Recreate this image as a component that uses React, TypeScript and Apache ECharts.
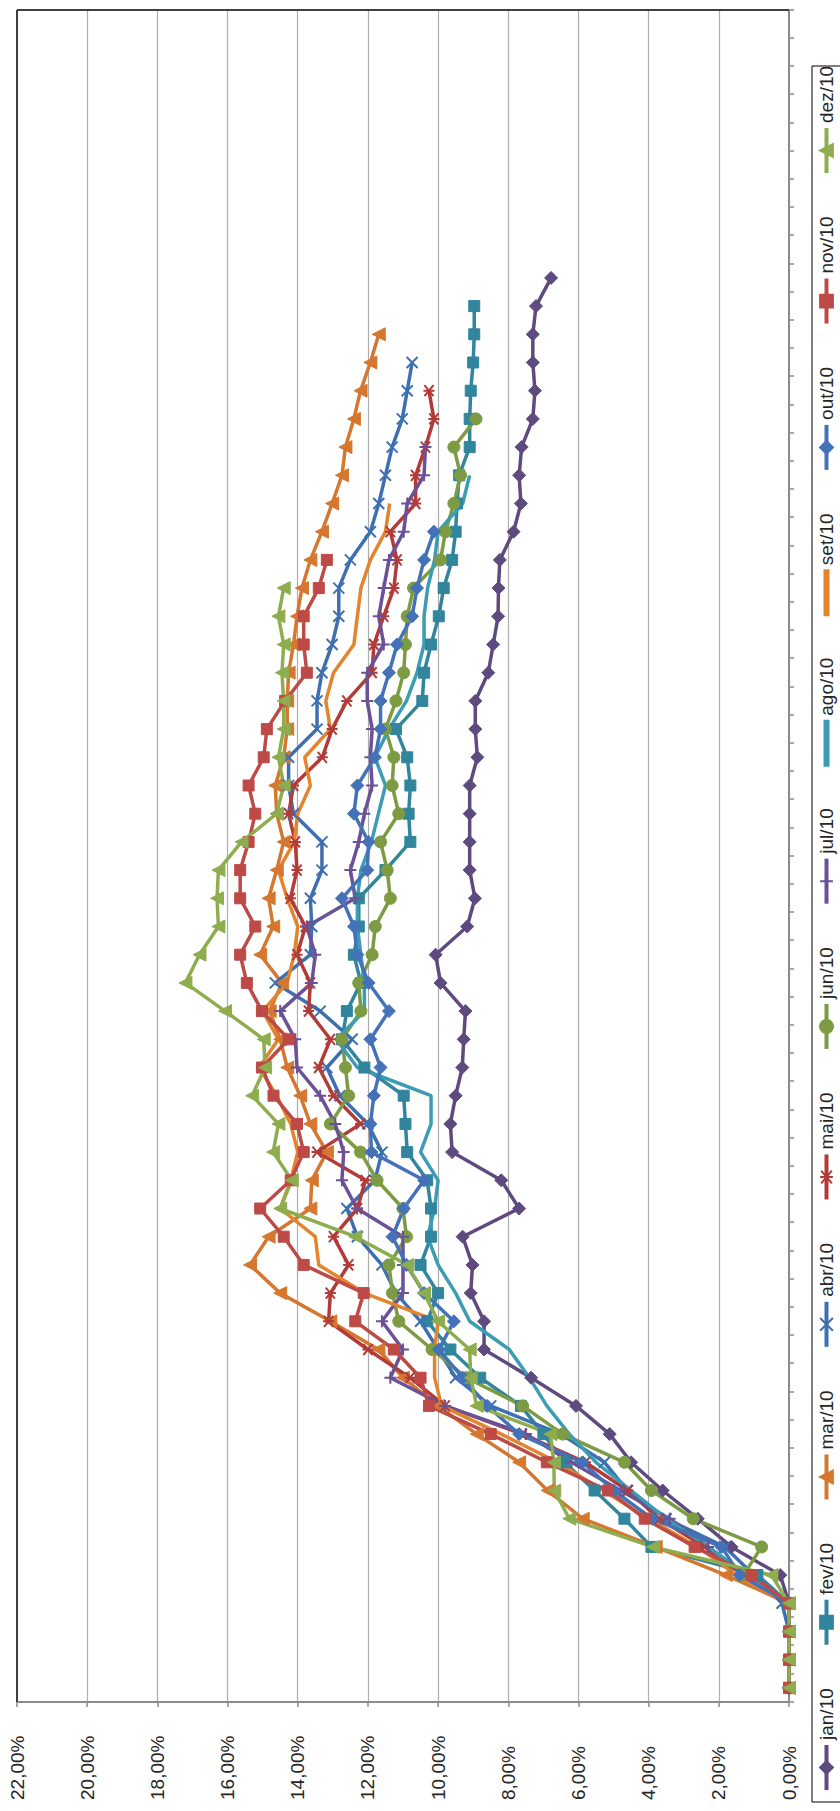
import React, { useEffect, useRef } from "react";
import * as echarts from "echarts";

const categories = [
  "1","2","3","4","5","6","7","8","9","10","11","12","13","14","15","16","17","18","19","20",
  "21","22","23","24","25","26","27","28","29","30","31","32","33","34","35","36","37","38","39","40",
  "41","42","43","44","45","46","47","48","49","50","51","52","53","54","55","56","57","58","59","60",
];

const seriesNames = ["jan/10","fev/10","mar/10","abr/10","mai/10","jun/10","jul/10","ago/10","set/10","out/10","nov/10","dez/10"];

const jan10 = [0,0,0,0,0.25,1.64,2.6,3.6,4.5,5.11,6.07,7.35,8.69,8.69,9.07,9.02,9.3,7.69,8.2,9.6,9.65,9.5,9.31,9.27,9.22,9.93,10.07,9.17,8.95,9.1,9.1,9.1,9.1,8.88,8.94,8.94,8.57,8.43,8.29,8.28,8.24,7.85,7.64,7.69,7.62,7.3,7.24,7.3,7.3,7.21,6.78];
const fev10 = [0,0,0,0,0.9,3.92,4.69,5.54,6.4,7.0,7.64,8.8,9.65,10.31,10.0,10.5,10.2,10.2,10.31,10.88,10.93,10.98,12.1,12.74,12.6,12.2,12.4,12.26,12.26,11.5,10.79,10.84,10.79,10.88,11.2,10.45,10.4,10.2,9.98,9.84,9.6,9.5,9.46,9.4,9.1,9.1,9.07,9.0,8.97,8.97];
const mar10 = [0,0,0,0,1.8,3.8,5.88,6.88,7.69,8.9,10.0,11.0,11.7,13.07,14.5,15.36,14.83,13.64,13.6,13.17,13.64,13.93,14.3,14.5,14.8,14.45,15.07,14.7,14.83,14.6,14.4,14.6,14.64,14.4,14.3,14.3,14.26,14.12,14.02,13.88,13.64,13.31,13.02,12.74,12.64,12.4,12.21,11.93,11.69];
const abr10 = [0,0,0,0.2,1.0,1.83,3.5,4.6,5.26,6.5,8.5,9.5,10.0,10.5,11.2,11.6,12.3,12.6,11.8,11.6,12.0,12.8,13.17,12.45,13.36,14.64,13.64,13.6,13.64,13.31,13.31,14.12,14.26,14.26,13.45,13.45,13.31,13.02,12.83,12.83,12.5,11.93,11.69,11.5,11.31,11.02,10.88,10.74];
const mai10 = [0,0,0,0,1.3,2.4,3.7,4.6,5.8,7.6,9.8,10.8,12.0,13.12,13.07,12.55,12.98,12.3,12.07,13.45,12.21,12.98,13.4,13.07,13.69,13.64,14.02,13.78,14.21,14.02,14.07,14.26,14.12,13.3,13.02,12.6,11.88,11.83,11.55,11.26,11.17,11.36,10.64,10.64,10.36,10.12,10.26];
const jun10 = [0,0,0,0,1.3,0.78,2.73,3.92,4.69,6.45,7.59,9.2,10.17,11.12,11.3,11.4,10.9,11.0,11.74,12.21,13.07,12.55,12.64,12.74,12.2,12.26,11.88,11.79,11.36,11.45,11.64,11.12,11.31,11.26,11.5,11.2,10.98,10.93,10.88,10.7,9.93,9.79,9.55,9.36,9.55,8.92];
const jul10 = [0,0,0,0,1.2,2.3,3.4,4.8,6.2,7.5,9.8,11.36,11.0,11.6,11.0,11.0,11.0,12.31,12.74,12.69,12.93,13.36,14.02,14.07,14.5,13.6,13.5,13.74,12.36,12.5,12.26,12.1,11.88,11.93,11.88,12.02,12.02,11.55,11.69,11.55,11.4,10.98,10.88,10.4,10.36];
const ago10 = [0,0,0,0,1.2,2.3,3.5,4.5,5.5,6.26,6.9,7.4,7.97,9.1,9.5,10.0,10.3,10.1,10.0,10.5,10.2,10.2,12.3,12.9,12.1,12.1,12.2,12.3,12.3,12.2,11.9,11.7,11.5,11.8,11.4,10.9,10.6,10.4,10.4,10.3,10.1,10.0,9.3,9.1];
const set10 = [0,0,0,0,1.5,2.6,4.0,5.3,6.6,8.2,9.9,10.1,10.1,10.0,12.1,13.4,13.5,14.5,14.2,14.0,14.2,14.6,15.1,14.55,15.0,14.3,14.1,14.0,14.3,14.55,14.1,14.0,13.64,13.8,13.07,13.2,12.98,12.4,12.3,12.2,11.93,11.5,11.38];
const out10 = [0,0,0,0,1.4,1.92,3.9,5.0,5.88,7.69,8.6,9.3,9.98,9.55,10.4,10.9,11.3,10.98,10.4,11.9,11.93,11.83,11.64,11.93,11.4,11.98,12.3,12.4,12.74,12.02,11.98,12.4,12.3,11.8,11.64,11.64,11.4,11.17,10.74,10.6,10.4,10.12];
const nov10 = [0,0,0,0,1.07,2.69,4.11,5.16,6.9,8.5,10.26,10.5,11.26,12.36,12.12,13.83,14.4,15.07,14.2,13.83,14.02,14.69,15.02,14.26,15.02,15.45,15.64,15.21,15.64,15.64,15.4,15.21,15.4,14.97,14.88,14.36,13.74,13.83,13.83,13.4,13.17];
const dez10 = [0,0,0,0,0.5,3.88,6.26,6.69,6.7,6.8,8.9,9.07,9.1,10.0,10.4,10.88,12.36,14.5,14.17,14.7,14.55,15.3,14.93,14.97,16.07,17.2,16.8,16.26,16.3,16.26,15.6,14.6,14.4,14.55,14.4,14.4,14.45,14.4,14.55,14.4];

const seriesData = [jan10, fev10, mar10, abr10, mai10, jun10, jul10, ago10, set10, out10, nov10, dez10];

const valueMin = 0;
const valueMax = 22;
const valueStep = 2;

const colors = ["#5E4A7E","#31859C","#D5772F","#3E6FB0","#B23B38","#7C9B43","#6B5197","#3B9CB4","#E3842F","#4472B8","#BD4A46","#8EAD4E"];

const SYM_X = "path://M0,0L10,10M10,0L0,10";
const SYM_STAR = "path://M0,0L10,10M10,0L0,10M5,-1L5,11";
const SYM_PLUS = "path://M5,0L5,10M0,5L10,5";
const LINE_ICON = "path://M0,0L45,0L45,4L0,4Z";
const symbols = ["diamond","rect","triangle",SYM_X,SYM_STAR,"circle",SYM_PLUS,"none","none","diamond","rect","triangle"];
const symbolSizes = [13,11,13,11,11,12,12,0,0,13,11,13];

const W = 1811;
const H = 840;
const FONT = "'Liberation Sans', Arial, sans-serif";

export default function App() {
  const ref = useRef<HTMLDivElement>(null);

  useEffect(() => {
    if (!ref.current) return;
    const chart = echarts.init(ref.current, null, { renderer: "svg" });
    const gridLeft = 109;
    const gridRight = 10;
    const gridTop = 17;
    const gridBottom = 51;
    const x2 = W - gridRight;
    const y2 = H - gridBottom;
    const legendLeft = 9;
    const legendTop = 812;
    const legendRight = 1745;

    chart.setOption({
      animation: false,
      backgroundColor: "#ffffff",
      grid: { left: gridLeft, right: gridRight, top: gridTop, bottom: gridBottom, containLabel: false },
      legend: {
        data: seriesNames.map((name, i) =>
          symbols[i] === "none" ? { name, icon: LINE_ICON } : { name }
        ),
        orient: "horizontal",
        left: legendLeft,
        top: legendTop,
        padding: [5, 10],
        itemWidth: 45,
        itemHeight: 16,
        itemGap: 41.5,
        symbolKeepAspect: true,
        borderWidth: 0,
        lineStyle: { width: 4 },
        textStyle: { fontSize: 19, color: "#262626", fontFamily: FONT },
      },
      xAxis: {
        type: "category",
        data: categories,
        boundaryGap: true,
        axisLine: { show: true, lineStyle: { color: "#8C8C8C", width: 2 } },
        axisTick: { show: true, interval: 0, length: 5, lineStyle: { color: "#8C8C8C", width: 1.5 } },
        axisLabel: { show: false },
        splitLine: { show: false },
      },
      yAxis: {
        type: "value",
        min: valueMin,
        max: valueMax,
        interval: valueStep,
        axisLine: { show: true, lineStyle: { color: "#8C8C8C", width: 2 } },
        axisTick: { show: true, length: 5, lineStyle: { color: "#8C8C8C", width: 1.5 } },
        splitLine: { show: true, lineStyle: { color: "#ADADAD", width: 1.2 } },
        axisLabel: {
          align: "left",
          margin: gridLeft - 11,
          fontSize: 19,
          color: "#262626",
          fontFamily: FONT,
          formatter: (v: number) => v.toFixed(2).replace(".", ",") + "%",
        },
      },
      graphic: [
        { type: "line", shape: { x1: gridLeft, y1: gridTop, x2: x2, y2: gridTop }, style: { stroke: "#404040", lineWidth: 2 }, z: 100 },
        { type: "line", shape: { x1: x2, y1: gridTop, x2: x2, y2: y2 }, style: { stroke: "#404040", lineWidth: 2 }, z: 100 },
        {
          type: "rect",
          shape: { x: legendLeft, y: legendTop, width: legendRight - legendLeft, height: 40 },
          style: { fill: "none", stroke: "#000000", lineWidth: 1 },
          silent: true,
        },
      ],
      series: seriesNames.map((name, i) => ({
        name,
        type: "line",
        data: seriesData[i],
        symbol: symbols[i],
        symbolSize: symbolSizes[i],
        showSymbol: symbols[i] !== "none",
        lineStyle: { width: 3.5, color: colors[i] },
        itemStyle: { color: colors[i], borderColor: colors[i], borderWidth: symbols[i].startsWith("path") ? 2 : 1 },
        emphasis: { disabled: true },
      })),
    });
    return () => chart.dispose();
  }, []);

  return (
    <div style={{ position: "absolute", left: 0, top: 0, width: 840, height: 1811, overflow: "hidden", background: "#fff" }}>
      <div
        ref={ref}
        style={{
          position: "absolute",
          left: 0,
          top: 0,
          width: W,
          height: H,
          transformOrigin: "0 0",
          transform: `translate(0px, ${W}px) rotate(-90deg)`,
        }}
      />
    </div>
  );
}
